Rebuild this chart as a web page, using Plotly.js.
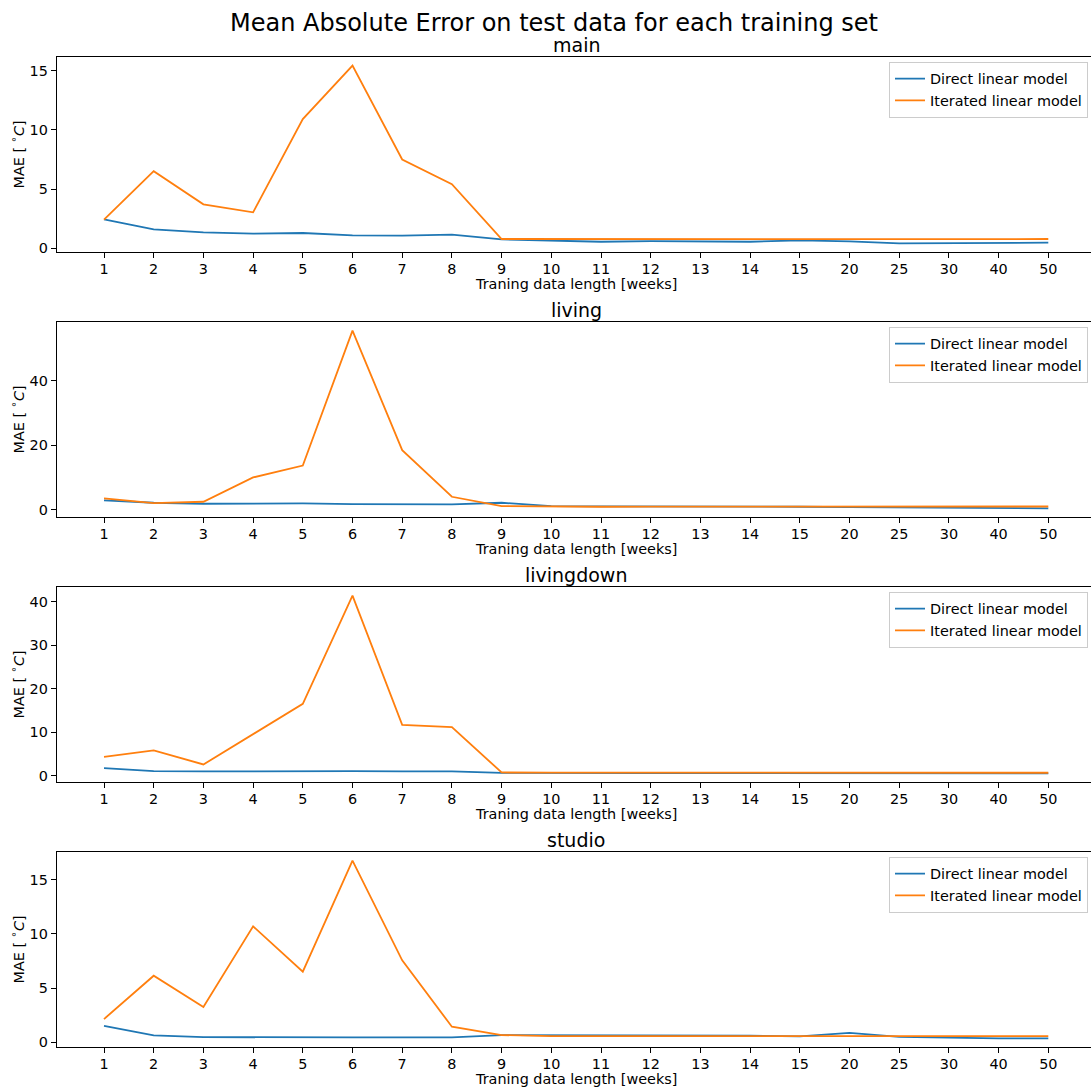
<!DOCTYPE html>
<html>
<head>
<meta charset="utf-8">
<script src="https://cdn.plot.ly/plotly-3.0.1.min.js"></script>
<style>html,body{margin:0;padding:0;background:#fff;overflow:hidden}</style>
</head>
<body>
<div id="chart" style="width:1091px;height:1091px"></div>
<script>
// ---- data ----
const weeks = ['1','2','3','4','5','6','7','8','9','10','11','12','13','14','15','20','25','30','40','50'];
const roomNames = ['main', 'living', 'livingdown', 'studio'];
const seriesNames = ['Direct linear model', 'Iterated linear model'];

const mainDirect   = [2.45, 1.61, 1.35, 1.24, 1.30, 1.10, 1.07, 1.16, 0.76, 0.68, 0.56, 0.62, 0.59, 0.56, 0.68, 0.59, 0.42, 0.42, 0.48, 0.48];
const mainIterated = [2.42, 6.51, 3.72, 3.04, 10.91, 15.42, 7.50, 5.41, 0.79, 0.78, 0.78, 0.78, 0.78, 0.78, 0.78, 0.78, 0.78, 0.78, 0.79, 0.79];

const livingDirect   = [2.89, 2.16, 1.86, 1.96, 1.96, 1.75, 1.65, 1.65, 2.16, 1.13, 1.03, 1.03, 1.03, 1.10, 0.93, 0.82, 0.72, 0.62, 0.52, 0.41];
const livingIterated = [3.50, 2.06, 2.47, 10.00, 13.70, 55.50, 18.45, 4.02, 1.13, 0.93, 0.93, 0.95, 0.95, 0.95, 0.95, 0.95, 0.98, 1.00, 1.00, 1.00];

const livingdownDirect   = [1.76, 1.07, 1.00, 1.07, 1.07, 1.07, 1.00, 1.00, 0.69, 0.62, 0.62, 0.62, 0.62, 0.62, 0.60, 0.60, 0.55, 0.55, 0.55, 0.55];
const livingdownIterated = [4.37, 5.82, 2.60, 9.58, 16.55, 41.40, 11.72, 11.19, 0.77, 0.72, 0.72, 0.72, 0.72, 0.72, 0.72, 0.72, 0.70, 0.70, 0.70, 0.70];

const studioDirect   = [1.51, 0.62, 0.46, 0.43, 0.43, 0.43, 0.43, 0.43, 0.65, 0.65, 0.62, 0.59, 0.59, 0.59, 0.52, 0.86, 0.49, 0.40, 0.34, 0.34];
const studioIterated = [2.13, 6.14, 3.24, 10.71, 6.51, 16.79, 7.56, 1.42, 0.65, 0.55, 0.55, 0.55, 0.56, 0.56, 0.55, 0.55, 0.55, 0.55, 0.55, 0.55];

const yTickSteps = [5, 20, 10, 5];

const directSeries = [mainDirect, livingDirect, livingdownDirect, studioDirect];
const iteratedSeries = [mainIterated, livingIterated, livingdownIterated, studioIterated];

// ---- layout geometry (pixels) ----
const W = 1091, H = 1091;
const FONT = 'DejaVu Sans, sans-serif';
const FS = 14.4;
const axLeft = 56.7, firstCat = 104, pxPerCat = 49.7;
const rowTops = [56.7, 321.7, 586.7, 851.7];
const axHeight = 195.6;
const blue = '#1f77b4', orange = '#ff7f0e';

const xRange = [(axLeft - firstCat) / pxPerCat, (W - firstCat) / pxPerCat];

const traces = [];
const layout = {
  width: W, height: H,
  margin: {l: 0, r: 0, t: 0, b: 0, pad: 0},
  paper_bgcolor: '#fff', plot_bgcolor: '#fff',
  font: {family: FONT, size: FS, color: '#000'},
  title: {
    text: 'Mean Absolute Error on test data for each training set',
    font: {family: FONT, size: 24, color: '#000'},
    x: 554 / W, xanchor: 'center', y: 1 - 23 / H, yanchor: 'middle'
  },
  showlegend: true,
  annotations: []
};

roomNames.forEach((room, k) => {
  const sfx = k === 0 ? '' : String(k + 1);
  const legName = 'legend' + sfx;
  const d = directSeries[k], it = iteratedSeries[k];
  traces.push({
    x: weeks, y: d, type: 'scatter', mode: 'lines', name: seriesNames[0],
    line: {color: blue, width: 1.8}, xaxis: 'x' + sfx, yaxis: 'y' + sfx, legend: legName
  });
  traces.push({
    x: weeks, y: it, type: 'scatter', mode: 'lines', name: seriesNames[1],
    line: {color: orange, width: 1.8}, xaxis: 'x' + sfx, yaxis: 'y' + sfx, legend: legName
  });

  const all = d.concat(it);
  const mn = Math.min(...all), mx = Math.max(...all);
  const span = mx - mn;
  const yRange = [mn - 0.05 * span, mx + 0.05 * span];

  const top = rowTops[k];
  const dom = [1 - (top + axHeight) / H, 1 - top / H];

  layout['xaxis' + sfx] = {
    domain: [axLeft / W, 1], anchor: 'y' + sfx, type: 'category',
    range: xRange, showline: true, mirror: true, linecolor: '#000', linewidth: 1,
    ticks: 'outside', ticklen: 5, tickwidth: 1, tickcolor: '#000', ticklabelstandoff: -2,
    showgrid: false, zeroline: false, fixedrange: true,
    tickfont: {family: FONT, size: FS, color: '#000'}
  };
  layout['yaxis' + sfx] = {
    domain: dom, anchor: 'x' + sfx, range: yRange, dtick: yTickSteps[k], tick0: 0,
    showline: true, mirror: false, linecolor: '#000', linewidth: 1,
    ticks: 'outside', ticklen: 5, tickwidth: 1, tickcolor: '#000',
    showgrid: false, zeroline: false, fixedrange: true,
    tickfont: {family: FONT, size: FS, color: '#000'}
  };
  layout[legName] = {
    x: 1088 / W, xanchor: 'right', y: 1 - (top + 5) / H, yanchor: 'top',
    xref: 'paper', yref: 'paper',
    bgcolor: 'rgba(255,255,255,0.8)', bordercolor: '#cccccc', borderwidth: 1,
    font: {family: FONT, size: FS, color: '#000'}, itemwidth: 30
  };
  // subplot title
  layout.annotations.push({
    text: room, xref: 'paper', yref: 'paper',
    x: (axLeft + 1095.5) / 2 / W, y: 1 - (top - 12) / H,
    xanchor: 'center', yanchor: 'middle', showarrow: false,
    font: {family: FONT, size: 19, color: '#000'}
  });
  // x axis title
  layout.annotations.push({
    text: 'Traning data length [weeks]', xref: 'paper', yref: 'paper',
    x: (axLeft + 1095.5) / 2 / W, y: 1 - (top + 227) / H,
    xanchor: 'center', yanchor: 'middle', showarrow: false,
    font: {family: FONT, size: FS, color: '#000'}
  });
  // y axis title
  layout.annotations.push({
    text: 'MAE [ <sup>∘</sup><i>C</i>]', xref: 'paper', yref: 'paper',
    x: 17 / W, y: 1 - (top + axHeight / 2) / H, textangle: -90,
    xanchor: 'center', yanchor: 'middle', showarrow: false,
    font: {family: FONT, size: FS, color: '#000'}
  });
});

Plotly.newPlot('chart', traces, layout, {displayModeBar: false, staticPlot: true});
</script>
</body>
</html>
